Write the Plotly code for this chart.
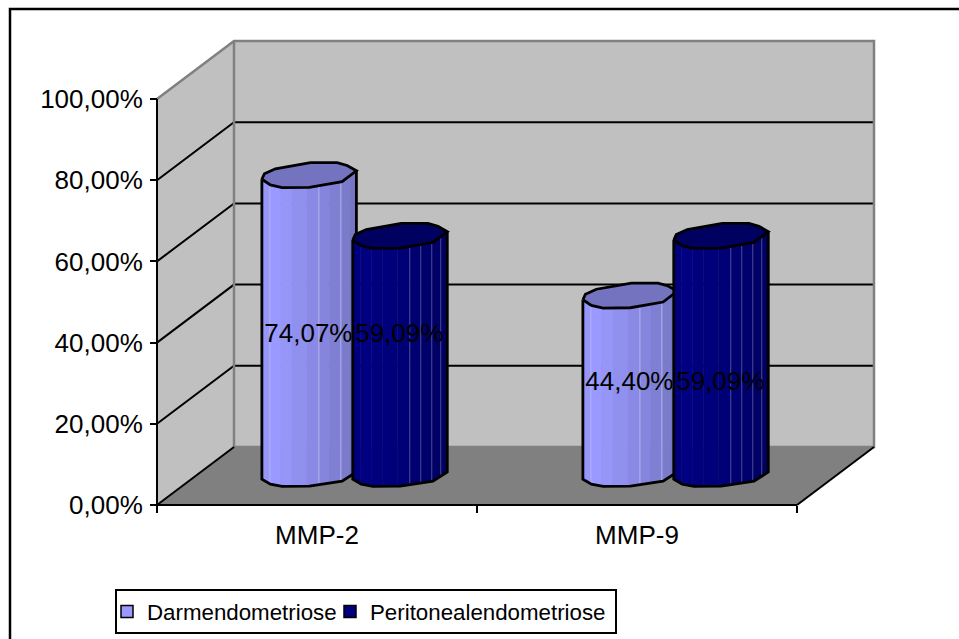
import plotly.graph_objects as go
import numpy as np

categories = ["MMP-2", "MMP-9"]
series_names = ["Darmendometriose", "Peritonealendometriose"]
darm_values = [0.7407, 0.4440]
peri_values = [0.5909, 0.5909]
label_heights = [0.4163, 0.3005]
y_ticks = [0, 0.2, 0.4, 0.6, 0.8, 1.0]

W, H = 959, 639
X0, Y0, PX_CAT, PX_FULL = 157, 505, 320, 406
DX, DY = 77 / PX_CAT, 58 / PX_FULL
WALL, FLOOR, EDGE = "#C0C0C0", "#808080", "#808080"
LIGHT = ["#9797FB", "#9999FF", "#9696F9", "#9090EF", "#8A8AE6", "#8585DD", "#7F7FD4", "#7B7BCC", "#7676C4"]
DARK = ["#00007E", "#000080", "#00007E", "#00007A", "#000076", "#000071", "#00006C", "#000067", "#000062"]
CAP = ["#7373BF", "#000060"]
SEAM = ["#B4B4F0", "#4A4A96"]
SWATCH = ["#9999FF", "#000080"]
BAR_OFFSET, BAR_SHIFT, BAR_DEPTH, BASE_FLAT, BAR_PITCH = 0.142, -2 / PX_CAT, 30 / 58, 0.85, 321 / 320
# cross-section outline of a column, in pixels relative to its centre (x right, y down)
BACK_ARC = [(47, -3.5), (37.7, -8.8), (27.7, -11.7), (1, -11.7), (-34, -5.5), (-45, -0.5), (-47.5, 5)]
FRONT_ARC = [(-47.5, 5), (-39, 10.7), (-27.3, 13.3), (0, 13), (32.7, 7.3), (47, -3.5)]
STRIP_EDGES = [-47.5, -39.5, -28.5, -17.5, -2.5, 9.5, 20.5, 31.5, 40.5, 47]
FONT = "Liberation Sans, Arial, sans-serif"

fig = go.Figure()


def proj(x, y, d=0.0):
    return x + d * DX, y + d * DY


def poly(points, fill=None, line=None, width=2):
    xs = [p[0] for p in points]
    ys = [p[1] for p in points]
    kw = dict(x=xs, y=ys, hoverinfo="skip", showlegend=False, mode="lines")
    if fill:
        kw.update(fill="toself", fillcolor=fill)
    kw["line"] = dict(color=line, width=width) if line else dict(width=0)
    fig.add_trace(go.Scatter(**kw))


# walls and floor
poly([proj(0, 0, 1), proj(2, 0, 1), proj(2, 1, 1), proj(0, 1, 1), proj(0, 0, 1)], fill=WALL)
poly([proj(0, 0, 0), proj(0, 0, 1), proj(0, 1, 1), proj(0, 1, 0), proj(0, 0, 0)], fill=WALL)
poly([proj(0, 0, 0), proj(2, 0, 0), proj(2, 0, 1), proj(0, 0, 1), proj(0, 0, 0)], fill=FLOOR)

# gridlines
for v in y_ticks[1:-1]:
    poly([proj(0, v, 0), proj(0, v, 1), proj(2, v, 1)], line="#000000", width=2)

# wall edges
poly([proj(0, 1, 0), proj(0, 1, 1), proj(2, 1, 1), proj(2, 0, 1), proj(0, 0, 1), proj(0, 1, 1)], line=EDGE, width=2.5)
poly([proj(2, 0, 0), proj(2, 0, 1)], line="#000000", width=2)
poly([proj(0, 0, 0), proj(0, 0, 1)], line="#000000", width=2)


def cylinder(xc, value, sidx):
    fx = [p[0] for p in FRONT_ARC]
    fy = [p[1] for p in FRONT_ARC]

    def at(px, py, level, flat=1.0):
        x, y = proj(xc, level, BAR_DEPTH)
        return x + px / PX_CAT, y - py * flat / PX_FULL

    def edge(px, level, flat=1.0):
        return at(px, float(np.interp(px, fx, fy)), level, flat)

    colors = LIGHT if sidx == 0 else DARK
    for j in range(len(STRIP_EDGES) - 1):
        a, b = STRIP_EDGES[j], STRIP_EDGES[j + 1]
        poly([edge(a, 0, BASE_FLAT), edge(b, 0, BASE_FLAT), edge(b, value), edge(a, value), edge(a, 0, BASE_FLAT)],
             fill=colors[j], line=colors[j], width=0.5)
    seams = [1, 5, 7] if sidx == 0 else [5, 6, 7, 8]
    for j in seams:
        poly([edge(STRIP_EDGES[j], 0, BASE_FLAT), edge(STRIP_EDGES[j], value)], line=SEAM[sidx], width=1)
    cap = [at(px, py, value) for px, py in FRONT_ARC + BACK_ARC[1:]]
    poly(cap, fill=CAP[sidx], line="#000000", width=2.8)
    outline = [at(*FRONT_ARC[0], value)] + [at(px, py, 0, BASE_FLAT) for px, py in FRONT_ARC] + [at(*FRONT_ARC[-1], value)]
    poly(outline, line="#000000", width=2.8)


centres = []
for c in range(len(categories)):
    for off, vals, sidx in ((-BAR_OFFSET, darm_values, 0), (BAR_OFFSET, peri_values, 1)):
        xc = (c * BAR_PITCH) + 0.5 + off + BAR_SHIFT
        cylinder(xc, vals[c], sidx)
        centres.append((xc + BAR_DEPTH * DX - 1 / PX_CAT, label_heights[c], vals[c]))

# axis lines
poly([proj(0, 0), proj(0, 1)], line="#000000", width=2)
poly([proj(0, 0), proj(2, 0)], line="#000000", width=2)

# data labels
for lx, ly, val in centres:
    fig.add_trace(go.Scatter(
        x=[lx], y=[ly], mode="text",
        text=[f"{val * 100:.2f}%".replace(".", ",")],
        textposition="middle center",
        textfont=dict(family=FONT, size=26, color="#000000"),
        hoverinfo="skip", showlegend=False))

# legend entries
for name, col, lg in zip(series_names, SWATCH, ("legend", "legend2")):
    fig.add_trace(go.Scatter(
        x=[None], y=[None], mode="markers", name=name, legend=lg, showlegend=True,
        marker=dict(symbol="square", size=12, color=col, line=dict(color="#000000", width=1.5))))

legend_common = dict(
    orientation="h", y=(H - 611.5) / H, xanchor="left", yanchor="middle",
    bgcolor="rgba(0,0,0,0)", borderwidth=0,
    font=dict(family=FONT, size=22.3, color="#000000"),
    itemclick=False, itemdoubleclick=False,
)

fig.update_layout(
    width=W, height=H,
    margin=dict(l=0, r=0, t=0, b=0),
    autosize=False,
    paper_bgcolor="#FFFFFF", plot_bgcolor="#FFFFFF",
    font=dict(family=FONT, color="#000000", size=26),
    separators=",.",
    xaxis=dict(
        domain=[0, 1],
        range=[-X0 / PX_CAT, (W - X0) / PX_CAT],
        anchor="free", position=(H - Y0) / H,
        tickmode="array", tickvals=[0.5, 1.5], ticktext=categories,
        ticks="", showgrid=False, zeroline=False, showline=False,
        tickfont=dict(family=FONT, size=26), ticklabelstandoff=12,
        minor=dict(tick0=0, dtick=1, ticks="outside", ticklen=7, tickwidth=2, tickcolor="#000000", showgrid=False),
    ),
    yaxis=dict(
        domain=[0, 1],
        range=[(Y0 - H) / PX_FULL, Y0 / PX_FULL],
        anchor="free", position=X0 / W,
        tickmode="array", tickvals=y_ticks, tickformat=".2%",
        ticks="outside", ticklen=7, tickwidth=2, tickcolor="#000000",
        showgrid=False, zeroline=False, showline=False,
        tickfont=dict(family=FONT, size=26), ticklabelstandoff=2,
    ),
    showlegend=True,
    legend=dict(x=107 / W, **legend_common),
    legend2=dict(x=330 / W, **legend_common),
    shapes=[
        dict(type="rect", xref="paper", yref="paper", x0=10 / W, x1=1.02, y0=-0.02, y1=(H - 9) / H,
             line=dict(color="#000000", width=2.5), layer="below"),
        dict(type="rect", xref="paper", yref="paper", x0=116 / W, x1=616 / W, y0=(H - 633) / H, y1=(H - 590) / H,
             line=dict(color="#000000", width=2), fillcolor="#FFFFFF", layer="below"),
    ],
)

fig.write_html("out.html", config={"displayModeBar": False},
               post_script="document.body.style.margin='0';")
